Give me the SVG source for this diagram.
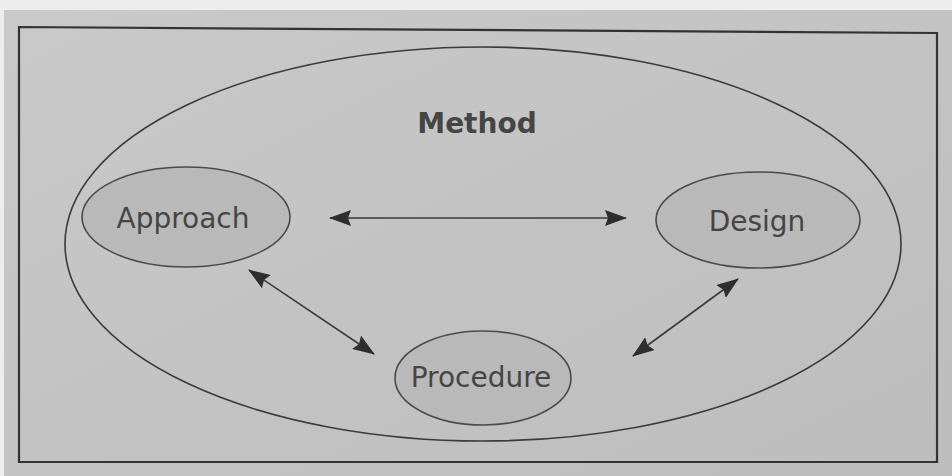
<svg xmlns="http://www.w3.org/2000/svg" width="952" height="476" viewBox="0 0 952 476">
<defs>
<style>
.node{fill:#b9b9b9;stroke:#4a4a4a;stroke-width:1.6}
.lbl{font-family:"DejaVu Sans",Verdana,sans-serif;font-size:28px;fill:#454545;text-anchor:middle}
.con{stroke:#3a3a3a;stroke-width:1.6;fill:none;marker-start:url(#ah);marker-end:url(#ah)}
</style>
<marker id="ah" viewBox="0 0 22 16" refX="21" refY="8" markerWidth="22" markerHeight="16" markerUnits="userSpaceOnUse" orient="auto-start-reverse">
<path d="M0,0 L22,8 L0,16 L3,8 Z" fill="#2e2e2e"/>
</marker>
<linearGradient id="bg" x1="0" y1="0" x2="1" y2="1">
<stop offset="0" stop-color="#c9c9c9"/>
<stop offset="1" stop-color="#bdbdbd"/>
</linearGradient>
</defs>
<rect x="0" y="0" width="952" height="476" fill="#ededed"/>
<rect x="4" y="10" width="948" height="466" fill="url(#bg)"/>
<polygon points="19,27 937,33 937,462 19,462" fill="none" stroke="#333" stroke-width="2.2"/>
<g id="method">
<ellipse cx="483" cy="244" rx="418" ry="197" fill="none" stroke="#3a3a3a" stroke-width="1.6"/>
<text x="477" y="133" class="lbl" style="font-weight:bold;font-size:28px">Method</text>
</g>
<g id="approach">
<ellipse class="node" cx="186" cy="217" rx="104" ry="50"/>
<text x="183" y="228" class="lbl">Approach</text>
</g>
<g id="design">
<ellipse class="node" cx="758" cy="220" rx="102" ry="48"/>
<text x="757" y="231" class="lbl">Design</text>
</g>
<g id="procedure">
<ellipse class="node" cx="483" cy="378" rx="88" ry="47"/>
<text x="481" y="387" class="lbl">Procedure</text>
</g>
<g id="connectors">
<line class="con" x1="330" y1="218" x2="626" y2="218"/>
<line class="con" x1="249" y1="270" x2="374" y2="354"/>
<line class="con" x1="738" y1="279" x2="633" y2="356"/>
</g>
</svg>
